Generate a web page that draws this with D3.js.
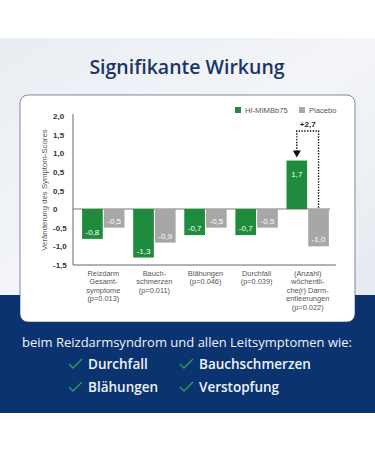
<!DOCTYPE html>
<html>
<head>
<meta charset="utf-8">
<script src="https://cdn.jsdelivr.net/npm/d3@7"></script>
<style>
  body { margin: 0; background: #fff; }
  svg { display: block; font-family: "Open Sans", sans-serif; }
  .chartText { font-family: "Liberation Sans", Arial, sans-serif; }
</style>
</head>
<body>
<script>
//chart data
var categories = [
  ["Reizdarm", "Gesamt-", "symptome", "(p=0.013)"],
  ["Bauch-", "schmerzen", "(p=0.011)"],
  ["Blähungen", "(p=0.046)"],
  ["Durchfall", "(p=0.039)"],
  ["(Anzahl)", "wöchentli-", "che(r) Darm-", "entleerungen", "(p=0.022)"]
];
var probiotic = [-0.8, -1.3, -0.7, -0.7, 1.7];
var placebo = [-0.5, -0.9, -0.5, -0.5, -1.0];
var seriesNames = ["HI-MIMBb75", "Placebo"];
var tickLabels = ["2,0", "1,5", "1,0", "0,5", "0,5", "0", "-0,5", "-1,0", "-1,5"];
var diffLabel = "+2,7";
var symptoms = ["Durchfall", "Bauchschmerzen", "Blähungen", "Verstopfung"];

var width = 375, height = 450;
var navy = "#0b3370", green = "#1e8c3c", grey = "#a7a7a7";

//german number format with plain hyphen
var fmt = d3.formatLocale({decimal: ",", thousands: ".", grouping: [3], currency: ["", "€"], minus: "-"}).format(".1f");

var svg = d3.select("body").append("svg")
  .attr("width", width)
  .attr("height", height);

//backgrounds
var grad = svg.append("defs").append("linearGradient")
  .attr("id", "bg").attr("x1", 0).attr("y1", 0).attr("x2", 1).attr("y2", 1);
grad.append("stop").attr("offset", 0).attr("stop-color", "#e9edf2");
grad.append("stop").attr("offset", 0.5).attr("stop-color", "#f3f5f8");
grad.append("stop").attr("offset", 1).attr("stop-color", "#e6eaf0");

svg.append("rect").attr("x", 0).attr("y", 38).attr("width", width).attr("height", 257)
  .attr("fill", "url(#bg)");
svg.append("rect").attr("x", 0).attr("y", 295).attr("width", width).attr("height", 118)
  .attr("fill", navy);

svg.append("text")
  .attr("x", 187).attr("y", 74)
  .attr("text-anchor", "middle")
  .attr("font-size", 19.5).attr("font-weight", 600)
  .attr("fill", "#1c3466")
  .text("Signifikante Wirkung");

//card
svg.append("rect")
  .attr("x", 20).attr("y", 95).attr("width", 335).attr("height", 227)
  .attr("rx", 8)
  .attr("fill", "#fff")
  .attr("stroke", "#2a3d66").attr("stroke-width", 0.6);

//scales
var x0 = d3.scaleBand().domain(d3.range(categories.length)).range([77, 334]).paddingInner(0.17).paddingOuter(0.1);
var x1 = d3.scaleBand().domain([0, 1]).range([0, x0.bandwidth()]).paddingInner(0.05);
var y = d3.scaleLinear().domain([-1.5, 0, 2]).range([265, 209, 152]);
var yTicks = d3.scalePoint().domain(d3.range(tickLabels.length)).range([116, 265]);

var chart = svg.append("g").attr("class", "chartText");

//y axis
chart.append("line").attr("x1", 73).attr("x2", 73).attr("y1", 114).attr("y2", 265)
  .attr("stroke", "#666").attr("stroke-width", 1);
chart.selectAll(".ytick").data(tickLabels).enter().append("text")
  .attr("class", "ytick")
  .attr("x", 53).attr("y", function(d, i){ return yTicks(i) + 3; })
  .attr("font-size", 8).attr("font-weight", 700).attr("fill", "#333")
  .text(function(d){ return d; });

chart.append("text")
  .attr("transform", "translate(47,190) rotate(-90)")
  .attr("text-anchor", "middle")
  .attr("font-size", 7.8).attr("fill", "#555")
  .text("Veränderung des Symptom-Scores");

//x axis + zero line
chart.append("line").attr("x1", 73).attr("x2", 336).attr("y1", 265).attr("y2", 265)
  .attr("stroke", "#666");
chart.append("line").attr("x1", 73).attr("x2", 330).attr("y1", y(0)).attr("y2", y(0))
  .attr("stroke", "#777");

//bars
var rows = categories.map(function(c, i){ return [probiotic[i], placebo[i]]; });
var groups = chart.selectAll(".grp").data(rows).enter().append("g")
  .attr("class", "grp")
  .attr("transform", function(d, i){ return "translate(" + x0(i) + ",0)"; });

groups.selectAll("rect").data(function(d){ return d; }).enter().append("rect")
  .attr("x", function(d, j){ return x1(j); })
  .attr("y", function(d){ return Math.min(y(d), y(0)); })
  .attr("width", x1.bandwidth())
  .attr("height", function(d){ return Math.abs(y(d) - y(0)); })
  .attr("fill", function(d, j){ return j === 0 ? green : grey; });

groups.selectAll(".val").data(function(d){ return d; }).enter().append("text")
  .attr("class", "val")
  .attr("x", function(d, j){ return x1(j) + x1.bandwidth() / 2; })
  .attr("y", function(d){ return d < 0 ? y(d) - 4 : y(d) + 16; })
  .attr("text-anchor", "middle")
  .attr("font-size", 8).attr("fill", "#fff")
  .text(function(d){ return fmt(d); });

//category labels
groups.each(function(d, i){
  var t = d3.select(this).append("text")
    .attr("text-anchor", "middle")
    .attr("font-size", 7.4).attr("fill", "#555");
  categories[i].forEach(function(line, k){
    t.append("tspan").attr("x", x0.bandwidth() / 2).attr("y", 276 + k * 8.4).text(line);
  });
});

//legend
var legend = chart.selectAll(".leg").data(seriesNames).enter().append("g")
  .attr("class", "leg")
  .attr("transform", function(d, i){ return "translate(" + (235 + i * 64) + ",107)"; });
legend.append("rect").attr("width", 6).attr("height", 6)
  .attr("fill", function(d, i){ return i === 0 ? green : grey; });
legend.append("text").attr("x", 10).attr("y", 5.5)
  .attr("font-size", 7.6).attr("fill", "#555")
  .text(function(d){ return d; });

//difference annotation on last group
var last = categories.length - 1;
var gx = x0(last) + x1(0) + x1.bandwidth() / 2;
var px = x0(last) + x1(1) + x1.bandwidth() / 2;
var topY = 131;
chart.append("path")
  .attr("d", "M" + gx + "," + (y(probiotic[last]) - 9) + "V" + topY + "H" + px + "V" + y(0))
  .attr("fill", "none").attr("stroke", "#111").attr("stroke-width", 1.4)
  .attr("stroke-dasharray", "1.4,1.4");
chart.append("path")
  .attr("d", "M" + (gx - 4) + "," + (y(probiotic[last]) - 10) + "L" + (gx + 4) + "," + (y(probiotic[last]) - 10) + "L" + gx + "," + (y(probiotic[last]) - 3) + "Z")
  .attr("fill", "#111");
chart.append("text")
  .attr("x", (gx + px) / 2).attr("y", 127)
  .attr("text-anchor", "middle")
  .attr("font-size", 8).attr("font-weight", 700).attr("fill", "#222")
  .text(diffLabel);

//bottom text
svg.append("text")
  .attr("x", 187).attr("y", 347)
  .attr("text-anchor", "middle")
  .attr("font-size", 13).attr("fill", "#eef2f8")
  .text("beim Reizdarmsyndrom und allen Leitsymptomen wie:");

var items = svg.selectAll(".item").data(symptoms).enter().append("g")
  .attr("class", "item")
  .attr("transform", function(d, i){ return "translate(" + (i % 2 === 0 ? 69 : 180) + "," + (369 + Math.floor(i / 2) * 23) + ")"; });
items.append("path")
  .attr("d", "M0,-5 L4,-1 L13,-10")
  .attr("fill", "none").attr("stroke", "#3a9a55").attr("stroke-width", 1.3);
items.append("text")
  .attr("x", 19).attr("y", 0)
  .attr("font-size", 13.5).attr("font-weight", 600).attr("fill", "#eef2f8")
  .text(function(d){ return d; });
</script>
</body>
</html>
